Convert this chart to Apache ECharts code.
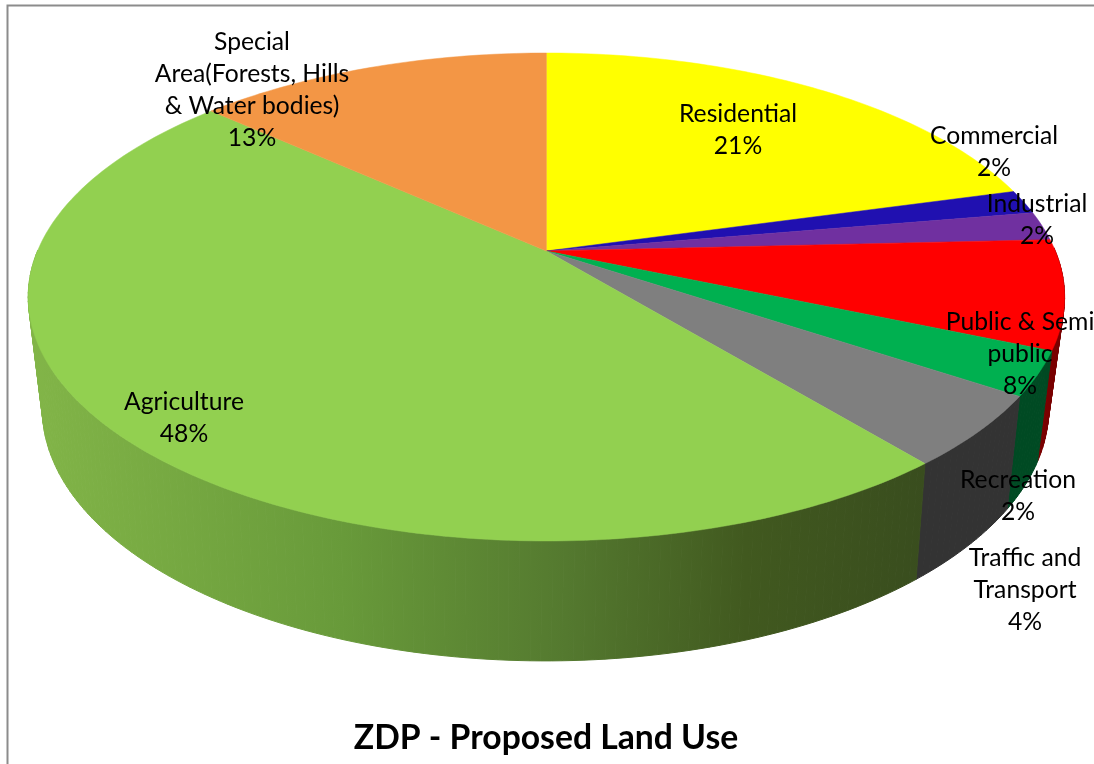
<!DOCTYPE html>
<html>
<head>
<meta charset="utf-8">
<style>html,body{margin:0;padding:0;background:#fff}#c{width:1094px;height:764px}</style>
<script src="https://cdn.jsdelivr.net/npm/echarts@6/dist/echarts.min.js"></script>
</head>
<body>
<div id="c"></div>
<script>
// ---- data ----
const categories = ['Residential','Commercial','Industrial','Public & Semi\npublic','Recreation','Traffic and\nTransport','Agriculture','Special\nArea(Forests, Hills\n& Water bodies)'];
const shares = [20.7, 1.6, 1.9, 7.2, 2.9, 4.7, 47.6, 13.3];   // slice sizes as drawn
const percentLabels = ['21%','2%','2%','8%','2%','4%','48%','13%'];
const chartTitle = 'ZDP - Proposed Land Use';

// ---- styling and layout ----
const topColors = ['#ffff00','#2010b0','#7030a0','#ff0000','#00b050','#7f7f7f','#92d050','#f39645'];
const wallColors = ['#7f7f00','#100858','#381850','#7a0000','#004a23','#333333',null,'#7b4b23'];
const agriWallStops = [[0,'#82b548'],[0.35,'#689a3a'],[0.6,'#54792f'],[0.8,'#41591f'],[1,'#394d1e']];
const labelCenters = [[738,130],[994,152],[1037,220],[1020,354],[1018,496],[1025,590],[184,418],[252,90]];
const LABEL_FONT = '24.7px Lato, "Open Sans", sans-serif';
const total = shares.reduce((a,b)=>a+b,0);
const topRim = {cx:546.4, cy:251, A:508.9, B:235.3, k:0.1885};
const lowRim = {cx:545.5, cy:358.4, A:493, B:242, k:0.2};

function project(rim, deg){
  const t = deg*Math.PI/180, u = Math.sin(t), v = -Math.cos(t), w = 1-rim.k*v;
  return [rim.cx+rim.A*u/w, rim.cy+rim.B*v/w];
}
function facesViewer(deg){ return -Math.cos(deg*Math.PI/180) >= 0; }
function sliceAngles(i){
  let s = 0; for(let j=0;j<i;j++) s += shares[j];
  return [s/total*360, (s+shares[i])/total*360];
}
function sweep(a,b){
  const out=[], n=Math.max(2,Math.ceil(Math.abs(b-a)));
  for(let j=0;j<=n;j++) out.push(a+(b-a)*j/n);
  return out;
}
const chart = echarts.init(document.getElementById('c'),null,{renderer:'canvas'});
const idx = shares.map((s,i)=>[i,s]);
chart.setOption({
  animation:false,
  backgroundColor:'#fff',
  title:{text:chartTitle,left:541,top:716,textAlign:'center',
    textStyle:{fontFamily:'Lato, "Open Sans", sans-serif',fontSize:33.7,fontWeight:'bold',color:'#000'}},
  graphic:[{type:'rect',silent:true,shape:{x:7.5,y:5.5,width:1200,height:900},
    style:{fill:'none',stroke:'#8c8c8c',lineWidth:2}}],
  series:[
    {type:'custom',coordinateSystem:'none',z:1,silent:true,data:idx,clip:false,
     renderItem(p,api){
       const i=p.dataIndex,[a,b]=sliceAngles(i);
       const ds=sweep(a,b);
       const fill=wallColors[i]||{type:'linear',x:30,y:0,x2:925,y2:0,global:true,
         colorStops:agriWallStops.map(s=>({offset:s[0],color:s[1]}))};
       const children=[];
       for(let j=0;j<ds.length-1;j++){
         if(!facesViewer(ds[j])&&!facesViewer(ds[j+1])) continue;
         children.push({type:'polygon',shape:{points:[project(topRim,ds[j]),project(topRim,ds[j+1]),project(lowRim,ds[j+1]),project(lowRim,ds[j])]},
           style:{fill,stroke:fill,lineWidth:1}});
       }
       return {type:'group',children};
     }},
    {type:'custom',coordinateSystem:'none',z:2,silent:true,data:idx,clip:false,
     renderItem(p,api){
       const i=p.dataIndex,[a,b]=sliceAngles(i);
       const pts=[[topRim.cx,topRim.cy]].concat(sweep(a,b).map(d=>project(topRim,d)));
       return {type:'polygon',shape:{points:pts},style:{fill:topColors[i],stroke:topColors[i],lineWidth:0.5}};
     }},
    {type:'custom',coordinateSystem:'none',z:3,silent:true,data:idx,clip:false,
     renderItem(p,api){
       const i=p.dataIndex,c=labelCenters[i];
       return {type:'text',x:c[0],y:c[1],style:{text:categories[i]+'\n'+percentLabels[i],
         font:LABEL_FONT,fill:'#000',align:'center',verticalAlign:'middle',lineHeight:32}};
     }}
  ]
});
</script>
</body>
</html>
